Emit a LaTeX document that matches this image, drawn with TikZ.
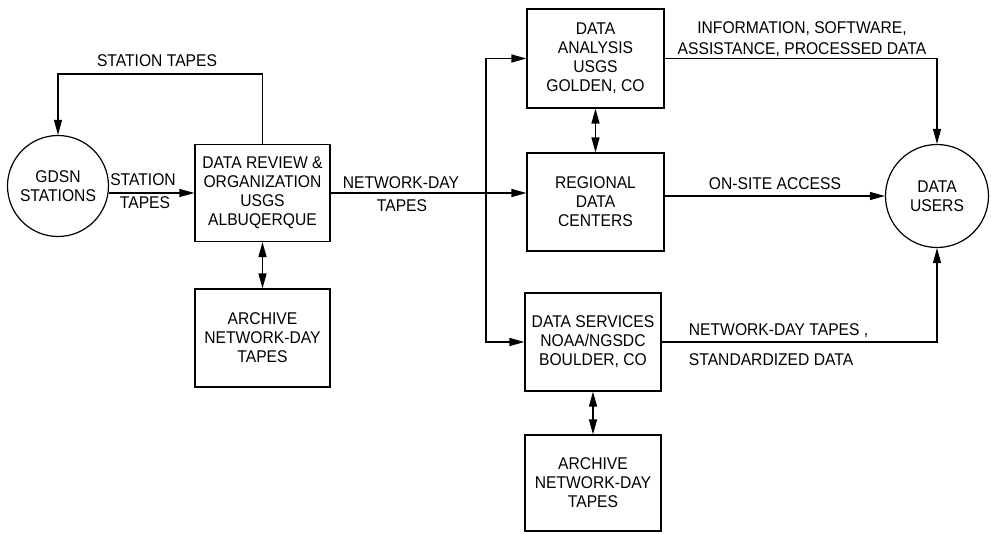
\documentclass[tikz,border=0pt]{standalone}
\usepackage{fontspec}
\setmainfont{Liberation Sans}[FakeStretch=0.92]
\usetikzlibrary{arrows.meta}

\begin{document}
\begin{tikzpicture}[x=1pt,y=1pt,yscale=-1,xscale=1,
  font=\fontsize{17}{19}\selectfont,
  box/.style={draw,line width=1.2pt,align=center,inner sep=0pt,minimum width=136pt,minimum height=98pt},
  site/.style={draw,circle,line width=1.2pt,align=center,inner sep=0pt,minimum size=101pt},
  lbl/.style={inner sep=0.75pt,align=center},
  flow/.style={line width=1.2pt,-{Triangle[length=15pt,width=8pt]}},
  both/.style={line width=1.4pt,{Triangle[length=15pt,width=8pt]}-{Triangle[length=15pt,width=8pt]}}]
\useasboundingbox (0,0) rectangle (991,533);
% Sites
\node[site] (gdsn) at (58,186) {GDSN\\STATIONS};
\node[site,minimum size=103pt] (users) at (937,196) {DATA\\USERS};
% Boxes
\node[box,minimum width=135pt,minimum height=97pt] (review) at (262.5,193) {DATA REVIEW \&\\ORGANIZATION\\USGS\\ALBUQERQUE};
\node[box,minimum width=135pt] (archA) at (262.5,338) {ARCHIVE\\NETWORK-DAY\\TAPES};
\node[box,minimum width=137pt,minimum height=99pt] (analysis) at (595.5,58.5) {DATA\\ANALYSIS\\USGS\\GOLDEN, CO};
\node[box,minimum width=137pt] (regional) at (595.5,202) {REGIONAL\\DATA\\CENTERS};
\node[box] (services) at (593,342) {DATA SERVICES\\NOAA/NGSDC\\BOULDER, CO};
\node[box,minimum height=96pt] (archB) at (593,483) {ARCHIVE\\NETWORK-DAY\\TAPES};
\coordinate (loop) at (262.5,74);
\coordinate (bus) at (486,193);
% Connectors
\draw[flow] (review.north) -- (loop) -| (gdsn.north);
\draw[flow] (gdsn.east |- review.west) -- (review.west);
\draw[flow] (review.east) -- (review.east -| regional.west);
\draw[flow] (bus) |- (analysis.west);
\draw[flow] (bus) |- (services.west);
\draw[both] (review.south) -- (archA.north);
\draw[both] (analysis.south) -- (regional.north);
\draw[both] (services.south) -- (archB.north);
\draw[flow] (analysis.east) -| (users.north);
\draw[flow] (regional.east |- users.west) -- (users.west);
\draw[flow] (services.east) -| (users.south);
% Text Node
\node[lbl] (lblloop) at (157,61) {STATION TAPES};
% Text Node
\node[lbl,anchor=south] (lblst) at (143,187) {STATION};
\node[lbl,anchor=north] (lbltp) at (145,196) {TAPES};
% Text Node
\node[lbl,anchor=south] (lblnd) at (401,190) {NETWORK-DAY};
\node[lbl,anchor=north] (lblndt) at (402,199) {TAPES};
% Text Node
\node[lbl,anchor=south] (lblinfo) at (802,58) {INFORMATION, SOFTWARE,\\[2pt]ASSISTANCE, PROCESSED DATA};
% Text Node
\node[lbl,anchor=south] (lblsite) at (775,191) {ON-SITE ACCESS};
% Text Node
\node[lbl,anchor=south west] (lblsv) at (688,339) {NETWORK-DAY TAPES ,};
\node[lbl,anchor=north west] (lblstd) at (688,353) {STANDARDIZED DATA};
\end{tikzpicture}
\end{document}
